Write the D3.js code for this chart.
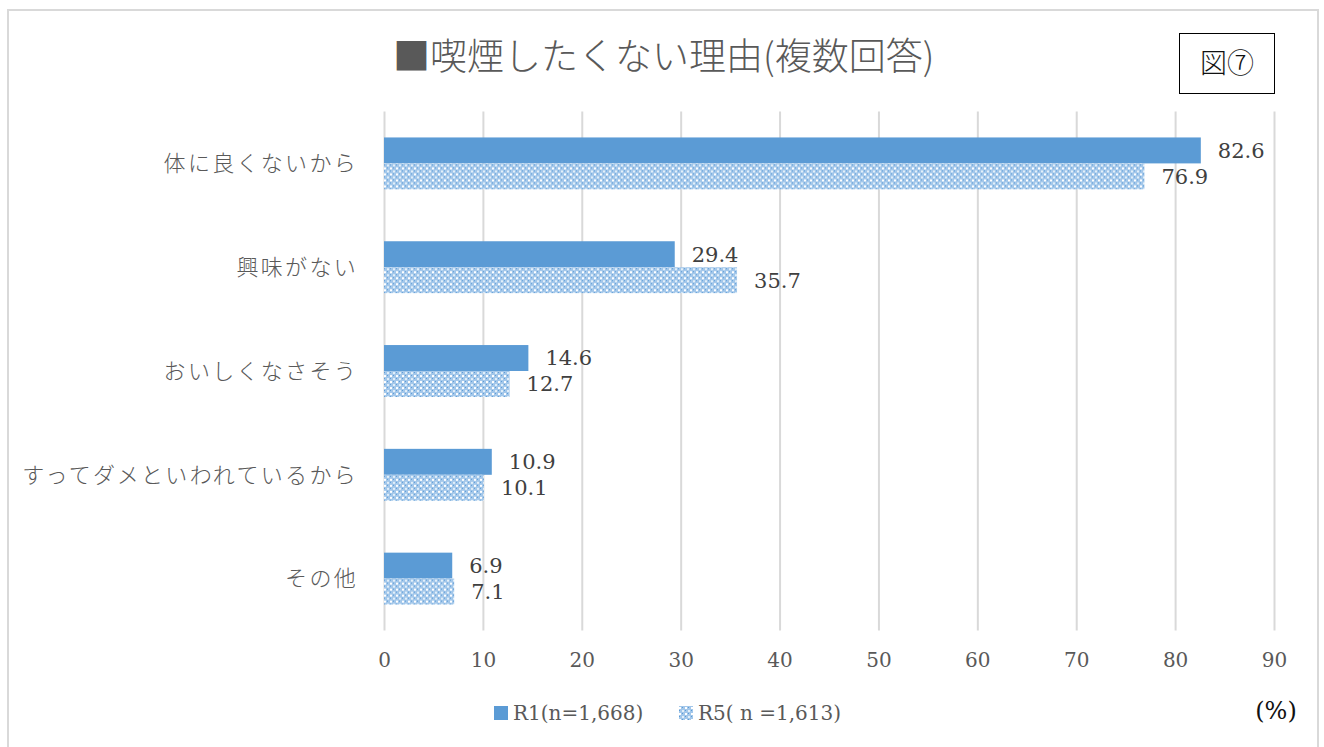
<!DOCTYPE html>
<html>
<head>
<meta charset="utf-8">
<script src="https://cdn.jsdelivr.net/npm/d3@7/dist/d3.min.js"></script>
<style>
  html, body { margin: 0; padding: 0; background: #fff; }
  svg { display: block; }
</style>
</head>
<body>
<svg id="chart" width="1324" height="747"></svg>
<script>
// Reasons for not wanting to smoke (multiple answers), two survey rounds
const categories = ["体に良くないから", "興味がない", "おいしくなさそう", "すってダメといわれているから", "その他"];
const seriesNames = ["R1(n=1,668)", "R5( n =1,613)"];
const valuesR1 = [82.6, 29.4, 14.6, 10.9, 6.9];
const valuesR5 = [76.9, 35.7, 12.7, 10.1, 7.1];
const tickValues = [0, 10, 20, 30, 40, 50, 60, 70, 80, 90];

const title = "■喫煙したくない理由(複数回答)";
const figLabel = "図⑦";
const unitLabel = "(%)";

const serif = "'DejaVu Serif', 'Liberation Serif', serif";
const jp = "'Noto Sans CJK JP', 'Noto Sans CJK SC', sans-serif";

const svg = d3.select("#chart");

// pattern for the second series: dotted light-blue fill
const defs = svg.append("defs");
const pat = defs.append("pattern")
  .attr("id", "dots")
  .attr("patternUnits", "userSpaceOnUse")
  .attr("width", 6).attr("height", 6);
pat.append("rect").attr("width", 6).attr("height", 6).attr("fill", "#a3c7ea");
pat.append("rect").attr("x", 0).attr("y", 0).attr("width", 2).attr("height", 2).attr("fill", "#ffffff");
pat.append("rect").attr("x", 3).attr("y", 3).attr("width", 2).attr("height", 2).attr("fill", "#e2eff9");
pat.append("rect").attr("x", 3).attr("y", 0).attr("width", 1).attr("height", 1).attr("fill", "#5b9bd5");
pat.append("rect").attr("x", 0).attr("y", 3).attr("width", 1).attr("height", 1).attr("fill", "#5b9bd5");

// outer frame
svg.append("rect")
  .attr("x", 8).attr("y", 10).attr("width", 1310).attr("height", 760)
  .attr("fill", "none").attr("stroke", "#d9d9d9").attr("stroke-width", 2);

// title
svg.append("text")
  .attr("x", 393).attr("y", 70)
  .attr("font-family", jp).attr("font-size", 37)
  .attr("font-weight", 300)
  .attr("fill", "#595959")
  .text(title);

// figure number box
svg.append("rect")
  .attr("x", 1179.5).attr("y", 33.5).attr("width", 95).attr("height", 60)
  .attr("fill", "#fff").attr("stroke", "#000").attr("stroke-width", 1);
svg.append("text")
  .attr("x", 1227).attr("y", 73)
  .attr("text-anchor", "middle")
  .attr("font-family", jp).attr("font-size", 27)
  .attr("font-weight", 300)
  .attr("fill", "#111")
  .text(figLabel);

// scales
const x = d3.scaleLinear().domain([0, 90]).range([384, 1274]);
const y = d3.scaleBand().domain(categories).range([111.5, 630.5])
  .paddingInner(0.5).paddingOuter(0.25);
const ySub = d3.scaleBand().domain(seriesNames).range([0, y.bandwidth()]);

// vertical gridlines + tick labels
const axis = d3.axisBottom(x)
  .tickValues(tickValues)
  .tickFormat(d3.format("d"))
  .tickSize(-(630.5 - 111.5))
  .tickPadding(22);
const gx = svg.append("g")
  .attr("transform", "translate(0,630.5)")
  .call(axis);
gx.select(".domain").remove();
gx.selectAll(".tick line").attr("stroke", "#d9d9d9").attr("stroke-width", 2);
gx.selectAll(".tick text")
  .attr("font-family", serif).attr("font-size", 20)
  .attr("fill", "#595959");

// category labels
svg.append("g").selectAll("text")
  .data(categories)
  .join("text")
  .attr("x", 358)
  .attr("y", d => y(d) + y.bandwidth() / 2)
  .attr("dy", "0.35em")
  .attr("text-anchor", "end")
  .attr("font-family", jp).attr("font-size", 22)
  .attr("font-weight", 300)
  .attr("letter-spacing", 2.3)
  .attr("fill", "#595959")
  .text(d => d);

// bars
const rows = categories.map((c, i) => ({ cat: c, vals: [valuesR1[i], valuesR5[i]] }));
const fills = ["#5b9bd5", "url(#dots)"];

const groups = svg.append("g").selectAll("g")
  .data(rows)
  .join("g")
  .attr("transform", d => `translate(0,${y(d.cat)})`);

groups.selectAll("rect")
  .data(d => d.vals.map((v, j) => ({ v, s: seriesNames[j], j })))
  .join("rect")
  .attr("x", x(0))
  .attr("y", d => ySub(d.s))
  .attr("width", d => x(d.v) - x(0))
  .attr("height", ySub.bandwidth())
  .attr("fill", d => fills[d.j]);

groups.selectAll("text")
  .data(d => d.vals.map((v, j) => ({ v, s: seriesNames[j], j })))
  .join("text")
  .attr("x", d => x(d.v) + 17)
  .attr("y", d => ySub(d.s) + ySub.bandwidth() / 2)
  .attr("dy", "0.35em")
  .attr("font-family", serif).attr("font-size", 21)
  .attr("fill", "#404040")
  .text(d => d.v.toFixed(1));

// legend
const legend = svg.append("g").attr("transform", "translate(494,713)");
const legendX = [0, 185];
seriesNames.forEach((s, j) => {
  const g = legend.append("g").attr("transform", `translate(${legendX[j]},0)`);
  g.append("rect").attr("x", 0).attr("y", -7).attr("width", 14).attr("height", 14)
    .attr("fill", fills[j]);
  g.append("text").attr("x", 19).attr("y", 0).attr("dy", "0.35em")
    .attr("font-family", serif).attr("font-size", 20)
    .attr("fill", "#595959")
    .text(s);
});

// unit label
svg.append("text")
  .attr("x", 1276).attr("y", 711)
  .attr("dy", "0.35em")
  .attr("text-anchor", "middle")
  .attr("font-family", serif).attr("font-size", 24)
  .attr("fill", "#111")
  .text(unitLabel);
</script>
</body>
</html>
